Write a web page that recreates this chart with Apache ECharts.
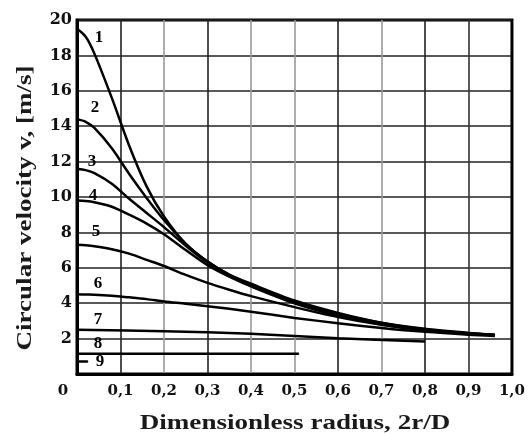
<!DOCTYPE html>
<html>
<head>
<meta charset="utf-8">
<script src="https://cdn.jsdelivr.net/npm/echarts@6/dist/echarts.min.js"></script>
<style>
  html, body { margin: 0; padding: 0; background: #fff; }
  #chart { width: 528px; height: 434px; }
</style>
</head>
<body>
<div id="chart"></div>
<script>
// radius sample points shared by curves 1-6
var radius = [0, 0.02, 0.04, 0.08, 0.12, 0.16, 0.2, 0.25, 0.3, 0.35, 0.4, 0.5, 0.6, 0.7, 0.8, 0.9, 0.96];
var curve1 = [19.5, 19.05, 18.1, 15.6, 12.9, 10.6, 8.9, 7.35, 6.35, 5.62, 5.1, 4.15, 3.45, 2.9, 2.55, 2.32, 2.22];
var curve2 = [14.4, 14.25, 13.9, 12.75, 11.3, 9.95, 8.7, 7.35, 6.35, 5.6, 5.05, 4.1, 3.4, 2.88, 2.52, 2.3, 2.2];
var curve3 = [11.6, 11.52, 11.35, 10.75, 9.9, 9.1, 8.3, 7.25, 6.3, 5.57, 5.0, 4.05, 3.35, 2.85, 2.5, 2.3, 2.2];
var curve4 = [9.8, 9.77, 9.7, 9.45, 9.0, 8.5, 7.9, 7.0, 6.15, 5.5, 4.95, 4.0, 3.3, 2.8, 2.48, 2.28, 2.2];
var curve5 = [7.3, 7.27, 7.22, 7.05, 6.8, 6.45, 6.1, 5.6, 5.15, 4.76, 4.4, 3.78, 3.22, 2.78, 2.46, 2.27, 2.18];
var curve6 = [4.5, 4.49, 4.48, 4.42, 4.33, 4.23, 4.1, 3.97, 3.83, 3.68, 3.52, 3.17, 2.87, 2.6, 2.38, 2.22, 2.15];
// short curves
var radius7 = [0, 0.2, 0.4, 0.6, 0.8];
var curve7 = [2.5, 2.42, 2.27, 2.02, 1.84];
var radius8 = [0, 0.51];
var curve8 = [1.15, 1.15];
var radius9 = [0, 0.025];
var curve9 = [0.7, 0.7];

var xTicks = ['0', '0,1', '0,2', '0,3', '0,4', '0,5', '0,6', '0,7', '0,8', '0,9', '1,0'];
var curveNames = ['1', '2', '3', '4', '5', '6', '7', '8', '9'];
// offset of the number label from the curve start, px
var labelOffsets = [[22, 9], [18, -12], [15, -7], [16, -5], [19, -13], [21, -11], [21, -10], [21, -10], [23, 0]];

var serif = 'Liberation Serif';
var wide = 'DejaVu Serif';

function makeSeries(idx, xs, ys) {
    var data = [];
    for (var i = 0; i < xs.length; i++) {
        data.push([xs[i], ys[i]]);
    }
    data[0] = {
        value: data[0],
        label: {
            show: true,
            formatter: curveNames[idx],
            position: 'inside',
            offset: labelOffsets[idx],
            color: '#000',
            fontFamily: serif,
            fontWeight: 'bold',
            fontSize: 17
        }
    };
    return {
        name: curveNames[idx],
        type: 'line',
        smooth: 0.3,
        symbol: 'circle',
        symbolSize: 1,
        itemStyle: { color: '#000' },
        lineStyle: { color: '#000', width: 2.5 },
        data: data
    };
}

var chart = echarts.init(document.getElementById('chart'));
var option = {
    animation: false,
    backgroundColor: '#fff',
    grid: {
        left: 77, top: 20, right: 11, bottom: 60,
        show: true, borderColor: '#000', borderWidth: 3
    },
    // axis titles: the source scan is stretched sideways, so the text is widened too
    graphic: [{
        type: 'text',
        x: 295, y: 423,
        scaleX: 1.23,
        style: {
            text: 'Dimensionless radius, 2r/D',
            font: 'bold 22px "Liberation Serif"',
            fill: '#1a1a1a',
            align: 'center',
            verticalAlign: 'middle'
        }
    }, {
        type: 'text',
        x: 25, y: 208,
        rotation: Math.PI / 2,
        scaleX: 1.23,
        style: {
            text: 'Circular velocity v, [m/s]',
            font: 'bold 22px "Liberation Serif"',
            fill: '#1a1a1a',
            align: 'center',
            verticalAlign: 'middle'
        }
    }],
    xAxis: {
        type: 'value',
        min: 0, max: 1, interval: 0.1,
        axisLine: { lineStyle: { color: '#000', width: 3 } },
        axisTick: { show: false },
        axisLabel: {
            margin: 10,
            fontFamily: wide, fontWeight: 'bold', fontSize: 15, color: '#111',
            formatter: function (v) {
                var s = xTicks[Math.round(v * 10)];
                return s == '0' ? '{o|0}' : s;
            },
            rich: { o: { padding: [0, 28, 0, 0], fontFamily: wide, fontWeight: 'bold', fontSize: 15, color: '#111' } }
        },
        splitLine: {
            show: true,
            lineStyle: {
                width: 1.6,
                color: ['#000', '#222', '#999', '#222', '#999', '#999', '#222', '#999', '#222', '#333', '#000']
            }
        }
    },
    yAxis: {
        type: 'value',
        min: 0, max: 20, interval: 2,
        axisLine: { show: true, lineStyle: { color: '#000', width: 3 } },
        axisTick: { show: false },
        axisLabel: {
            margin: 5,
            fontFamily: wide, fontWeight: 'bold', fontSize: 16, color: '#111',
            formatter: function (v) { return v == 0 ? '' : String(v); }
        },
        splitLine: { show: true, lineStyle: { color: '#222', width: 1.6 } }
    },
    series: [
        makeSeries(0, radius, curve1),
        makeSeries(1, radius, curve2),
        makeSeries(2, radius, curve3),
        makeSeries(3, radius, curve4),
        makeSeries(4, radius, curve5),
        makeSeries(5, radius, curve6),
        makeSeries(6, radius7, curve7),
        makeSeries(7, radius8, curve8),
        makeSeries(8, radius9, curve9)
    ]
};
chart.setOption(option);
</script>
</body>
</html>
